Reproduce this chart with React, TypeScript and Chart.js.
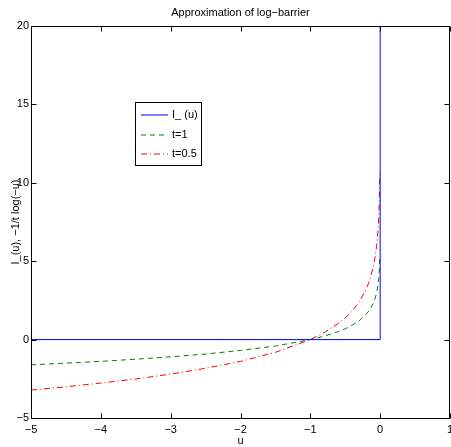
import React, { useEffect, useRef } from "react";
import { Chart, registerables } from "chart.js";

Chart.register(...registerables);

const TITLE = "Approximation of log\u2212barrier";
const X_LABEL = "u";
const Y_LABEL = "I_(u), \u22121/t log(\u2212u)";

const xTicks = [-5, -4, -3, -2, -1, 0, 1];
const yTicks = [-5, 0, 5, 10, 15, 20];

// indicator function I_(u)
const indicatorU = [-5, 0, 0];
const indicatorV = [0, 0, 20];

// sampled u values for the barrier curves
const uSamples = [
  -5, -4.5, -4, -3.5, -3, -2.5, -2, -1.5, -1, -0.8, -0.6, -0.5, -0.4, -0.3,
  -0.2, -0.15, -0.1, -0.07, -0.05, -0.03, -0.02, -0.01, -0.005,
];
// t = 1
const barrierT1 = [
  -1.61, -1.5, -1.39, -1.25, -1.1, -0.92, -0.69, -0.41, 0, 0.22, 0.51, 0.69,
  0.92, 1.2, 1.61, 1.9, 2.3, 2.66, 3.0, 3.51, 3.91, 4.61, 5.3,
];
// t = 0.5
const barrierT05 = [
  -3.22, -3.01, -2.77, -2.51, -2.2, -1.83, -1.39, -0.81, 0, 0.45, 1.02, 1.39,
  1.83, 2.41, 3.22, 3.79, 4.61, 5.32, 5.99, 7.01, 7.82, 9.21, 10.6,
];

const legendLabels = ["I_ (u)", "t=1", "t=0.5"];
const FAMILY = '"Liberation Sans", Arial, Helvetica, sans-serif';
const FONT = "11px " + FAMILY;
const minus = (v: number) => String(v).replace("-", "\u2212");

export default function App() {
  const ref = useRef<HTMLCanvasElement | null>(null);

  useEffect(() => {
    document.body.style.margin = "0";
    const canvas = ref.current;
    if (!canvas) return;

    const colors = ["#0000ff", "#008000", "#ff0000"];
    const dashes = [[], [5, 4], [6, 3, 1, 3]];

    const decor = {
      id: "decor",
      afterDraw(chart: any) {
        const ctx = chart.ctx;
        const a = chart.chartArea;
        const xs = chart.scales.x;
        const ys = chart.scales.y;
        ctx.save();
        ctx.strokeStyle = "#000";
        ctx.lineWidth = 1;
        ctx.beginPath();
        const L = Math.round(a.left) + 0.5;
        const T = Math.round(a.top) + 0.5;
        const R = Math.round(a.right) - 0.5;
        const B = Math.round(a.bottom) + 0.5;
        ctx.moveTo(R, B);
        ctx.lineTo(R, T);
        ctx.lineTo(L, T);
        ctx.lineTo(L, B);
        ctx.lineTo(R, B);
        ctx.stroke();
        const tl = 5;
        ctx.beginPath();
        xTicks.forEach((v) => {
          const px = Math.round(xs.getPixelForValue(v)) + 0.5;
          ctx.moveTo(px, B);
          ctx.lineTo(px, B - tl);
          ctx.moveTo(px, T);
          ctx.lineTo(px, T + tl);
        });
        yTicks.forEach((v) => {
          const py = Math.round(ys.getPixelForValue(v)) + 0.5;
          ctx.moveTo(L, py);
          ctx.lineTo(L + tl, py);
          ctx.moveTo(R, py);
          ctx.lineTo(R - tl, py);
        });
        ctx.stroke();
        ctx.fillStyle = "#000";
        ctx.font = FONT;
        ctx.textAlign = "center";
        ctx.textBaseline = "middle";
        ctx.fillText(TITLE, (a.left + a.right) / 2, 13);
        ctx.fillText(X_LABEL, (a.left + a.right) / 2, 441);
        ctx.save();
        ctx.translate(16, (a.top + a.bottom) / 2);
        ctx.rotate(-Math.PI / 2);
        ctx.fillText(Y_LABEL, 0, 0);
        ctx.restore();
        // legend
        ctx.fillStyle = "#fff";
        ctx.fillRect(135, 102, 66, 63);
        ctx.strokeStyle = "#000";
        ctx.strokeRect(135.5, 102.5, 66, 63);
        const rows = [115, 135, 154];
        legendLabels.forEach((lab, i) => {
          ctx.strokeStyle = colors[i];
          ctx.setLineDash(dashes[i]);
          ctx.beginPath();
          ctx.moveTo(141, rows[i]);
          ctx.lineTo(168, rows[i]);
          ctx.stroke();
          ctx.setLineDash([]);
          ctx.fillStyle = "#000";
          ctx.textAlign = "left";
          ctx.fillText(lab, 172, rows[i]);
        });
        ctx.restore();
      },
    };

    const mk = (xsArr: number[], ysArr: number[]) =>
      xsArr.map((x, i) => ({ x, y: ysArr[i] }));

    const noPad = (s: any) => {
      s.paddingLeft = 0;
      s.paddingRight = 0;
      s.paddingTop = 0;
      s.paddingBottom = 0;
    };

    const chart = new Chart(canvas, {
      type: "line",
      data: {
        datasets: [
          { label: legendLabels[0], data: mk(indicatorU, indicatorV), borderColor: colors[0], borderWidth: 1, pointRadius: 0, borderDash: dashes[0] },
          { label: legendLabels[1], data: mk(uSamples, barrierT1), borderColor: colors[1], borderWidth: 1, pointRadius: 0, borderDash: dashes[1] },
          { label: legendLabels[2], data: mk(uSamples, barrierT05), borderColor: colors[2], borderWidth: 1, pointRadius: 0, borderDash: dashes[2] },
        ],
      },
      options: {
        animation: false,
        responsive: false,
        layout: { padding: { top: 26, right: 0, left: 0, bottom: 0 } },
        plugins: { legend: { display: false }, tooltip: { enabled: false }, title: { display: false } },
        scales: {
          x: {
            type: "linear",
            min: -5,
            max: 1,
            afterBuildTicks: (s: any) => { s.ticks = xTicks.map((v) => ({ value: v })); },
            afterFit: (s: any) => { s.height = 29; noPad(s); s.paddingRight = 1; },
            grid: { display: false, drawTicks: false },
            border: { display: false },
            ticks: { color: "#000", font: { family: FAMILY, size: 11 }, padding: 5, maxRotation: 0, autoSkip: false, callback: (v: any) => minus(v) },
          },
          y: {
            type: "linear",
            min: -5,
            max: 20,
            afterBuildTicks: (s: any) => { s.ticks = yTicks.map((v) => ({ value: v })); },
            afterFit: (s: any) => { s.width = 31; noPad(s); },
            grid: { display: false, drawTicks: false },
            border: { display: false },
            ticks: { color: "#000", font: { family: FAMILY, size: 11 }, padding: 2, autoSkip: false, callback: (v: any) => minus(v) },
          },
        },
      },
      plugins: [decor],
    } as any);

    return () => chart.destroy();
  }, []);

  return (
    <div style={{ position: "absolute", left: 0, top: 0, width: 451, height: 447 }}>
      <canvas ref={ref} width={451} height={447} />
    </div>
  );
}
